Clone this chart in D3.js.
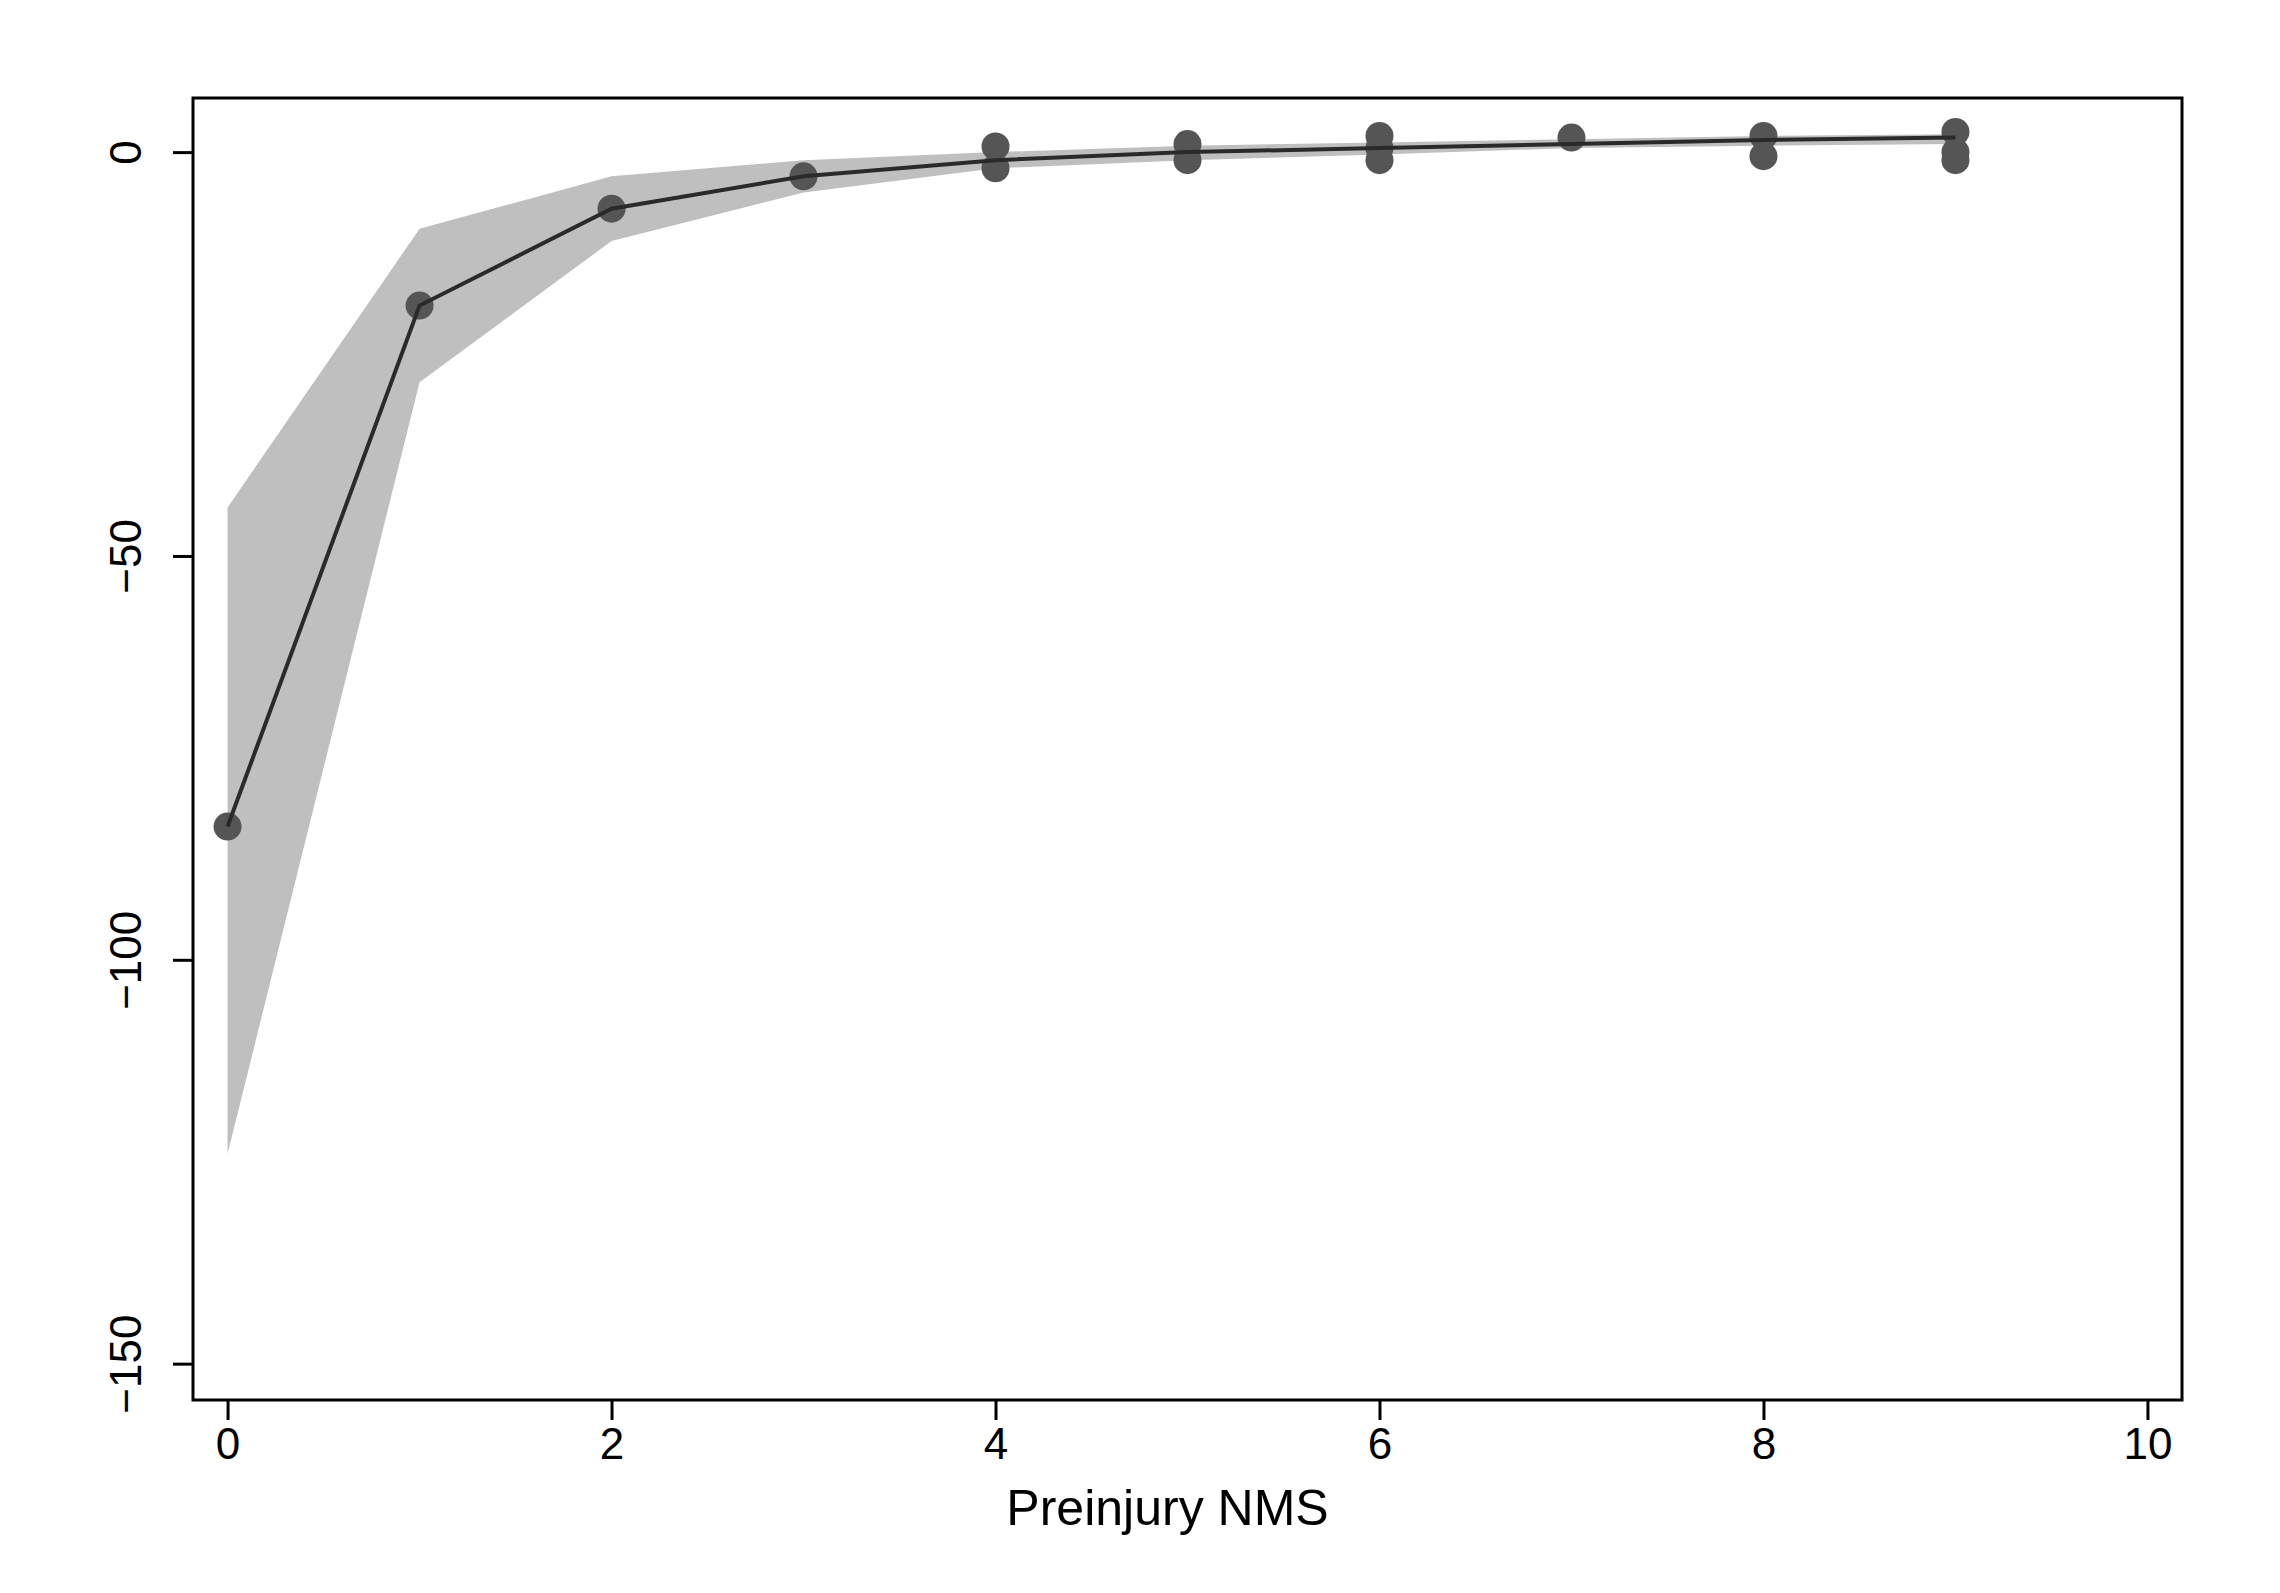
<!DOCTYPE html>
<html><head><meta charset="utf-8">
<script src="https://cdn.jsdelivr.net/npm/d3@7"></script>
<style>body{margin:0;background:#fff}</style></head>
<body><svg id="c" width="2280" height="1593"></svg>
<script>
const nms = [0,1,2,3,4,5,6,7,8,9];
const fit = [-83.5,-19,-7,-3,-1,0,0.5,1,1.5,1.8];
const upper = [-44,-9.5,-3,-1,0,0.8,1.2,1.6,2,2.2];
const lower = [-124,-28.5,-11,-5,-2,-1,-0.3,0.5,0.8,1];
const obsX = [0,1,2,3,4,4,5,5,6,6,6,7,8,8,9,9,9];
const obsY = [-83.5,-19,-7,-3,0.7,-2,1,-1,2,0.5,-1,1.8,2,-0.5,2.5,0,-1];
const xTicks = [0,2,4,6,8,10];
const yTicks = [0,-50,-100,-150];

const m = {left:193, right:2182, top:98, bottom:1400};
const svg = d3.select("#c");
const x = d3.scaleLinear().domain([-0.18,10.18]).range([m.left,m.right]);
const y = d3.scaleLinear().domain([-154.5,6.7]).range([m.bottom,m.top]);
const font = "Liberation Sans, Helvetica, Arial, sans-serif";

// confidence band
svg.append("path")
  .datum(nms)
  .attr("fill","#bfbfbf")
  .attr("d", d3.area().x(d => x(d)).y0((d,i) => y(lower[i])).y1((d,i) => y(upper[i])));

// observations
svg.selectAll("circle").data(obsX).enter().append("circle")
  .attr("cx", d => x(d)).attr("cy", (d,i) => y(obsY[i]))
  .attr("r", 14).attr("fill","#555");

// fitted line
svg.append("path")
  .datum(nms)
  .attr("fill","none").attr("stroke","#2a2a2a").attr("stroke-width",4)
  .attr("d", d3.line().x(d => x(d)).y((d,i) => y(fit[i])));

// frame
svg.append("rect").attr("x",m.left).attr("y",m.top)
  .attr("width",m.right-m.left).attr("height",m.bottom-m.top)
  .attr("fill","none").attr("stroke","#000").attr("stroke-width",3);

// axes
const gx = svg.append("g").attr("transform",`translate(0,${m.bottom})`)
  .call(d3.axisBottom(x).tickValues(xTicks).tickSize(20).tickPadding(8));
const gy = svg.append("g").attr("transform",`translate(${m.left},0)`)
  .call(d3.axisLeft(y).tickValues(yTicks).tickSize(20).tickPadding(10).tickFormat(d => d < 0 ? "\u2212" + (-d) : d));
[gx,gy].forEach(g => {
  g.select(".domain").remove();
  g.selectAll(".tick line").attr("stroke","#000").attr("stroke-width",3);
  g.selectAll("text").attr("font-family",font).attr("font-size",44).attr("fill","#000");
});
gy.selectAll(".tick text")
  .attr("transform", function(){ const t=d3.select(this); return `rotate(-90,${t.attr("x")},0)`; })
  .attr("text-anchor","middle").attr("dy","0").attr("y",0)
  .each(function(){ d3.select(this).attr("x",-42); })
  .attr("transform","rotate(-90,-42,0)").attr("dy","0.35em");
gy.selectAll(".tick text").attr("x",-52).attr("y",0).attr("transform","rotate(-90,-52,0)").attr("dy","0");

svg.append("text").attr("x",(x(0)+x(10))/2 - 20).attr("y",1525)
  .attr("text-anchor","middle").attr("font-family",font).attr("font-size",50)
  .text("Preinjury NMS");
</script></body></html>
